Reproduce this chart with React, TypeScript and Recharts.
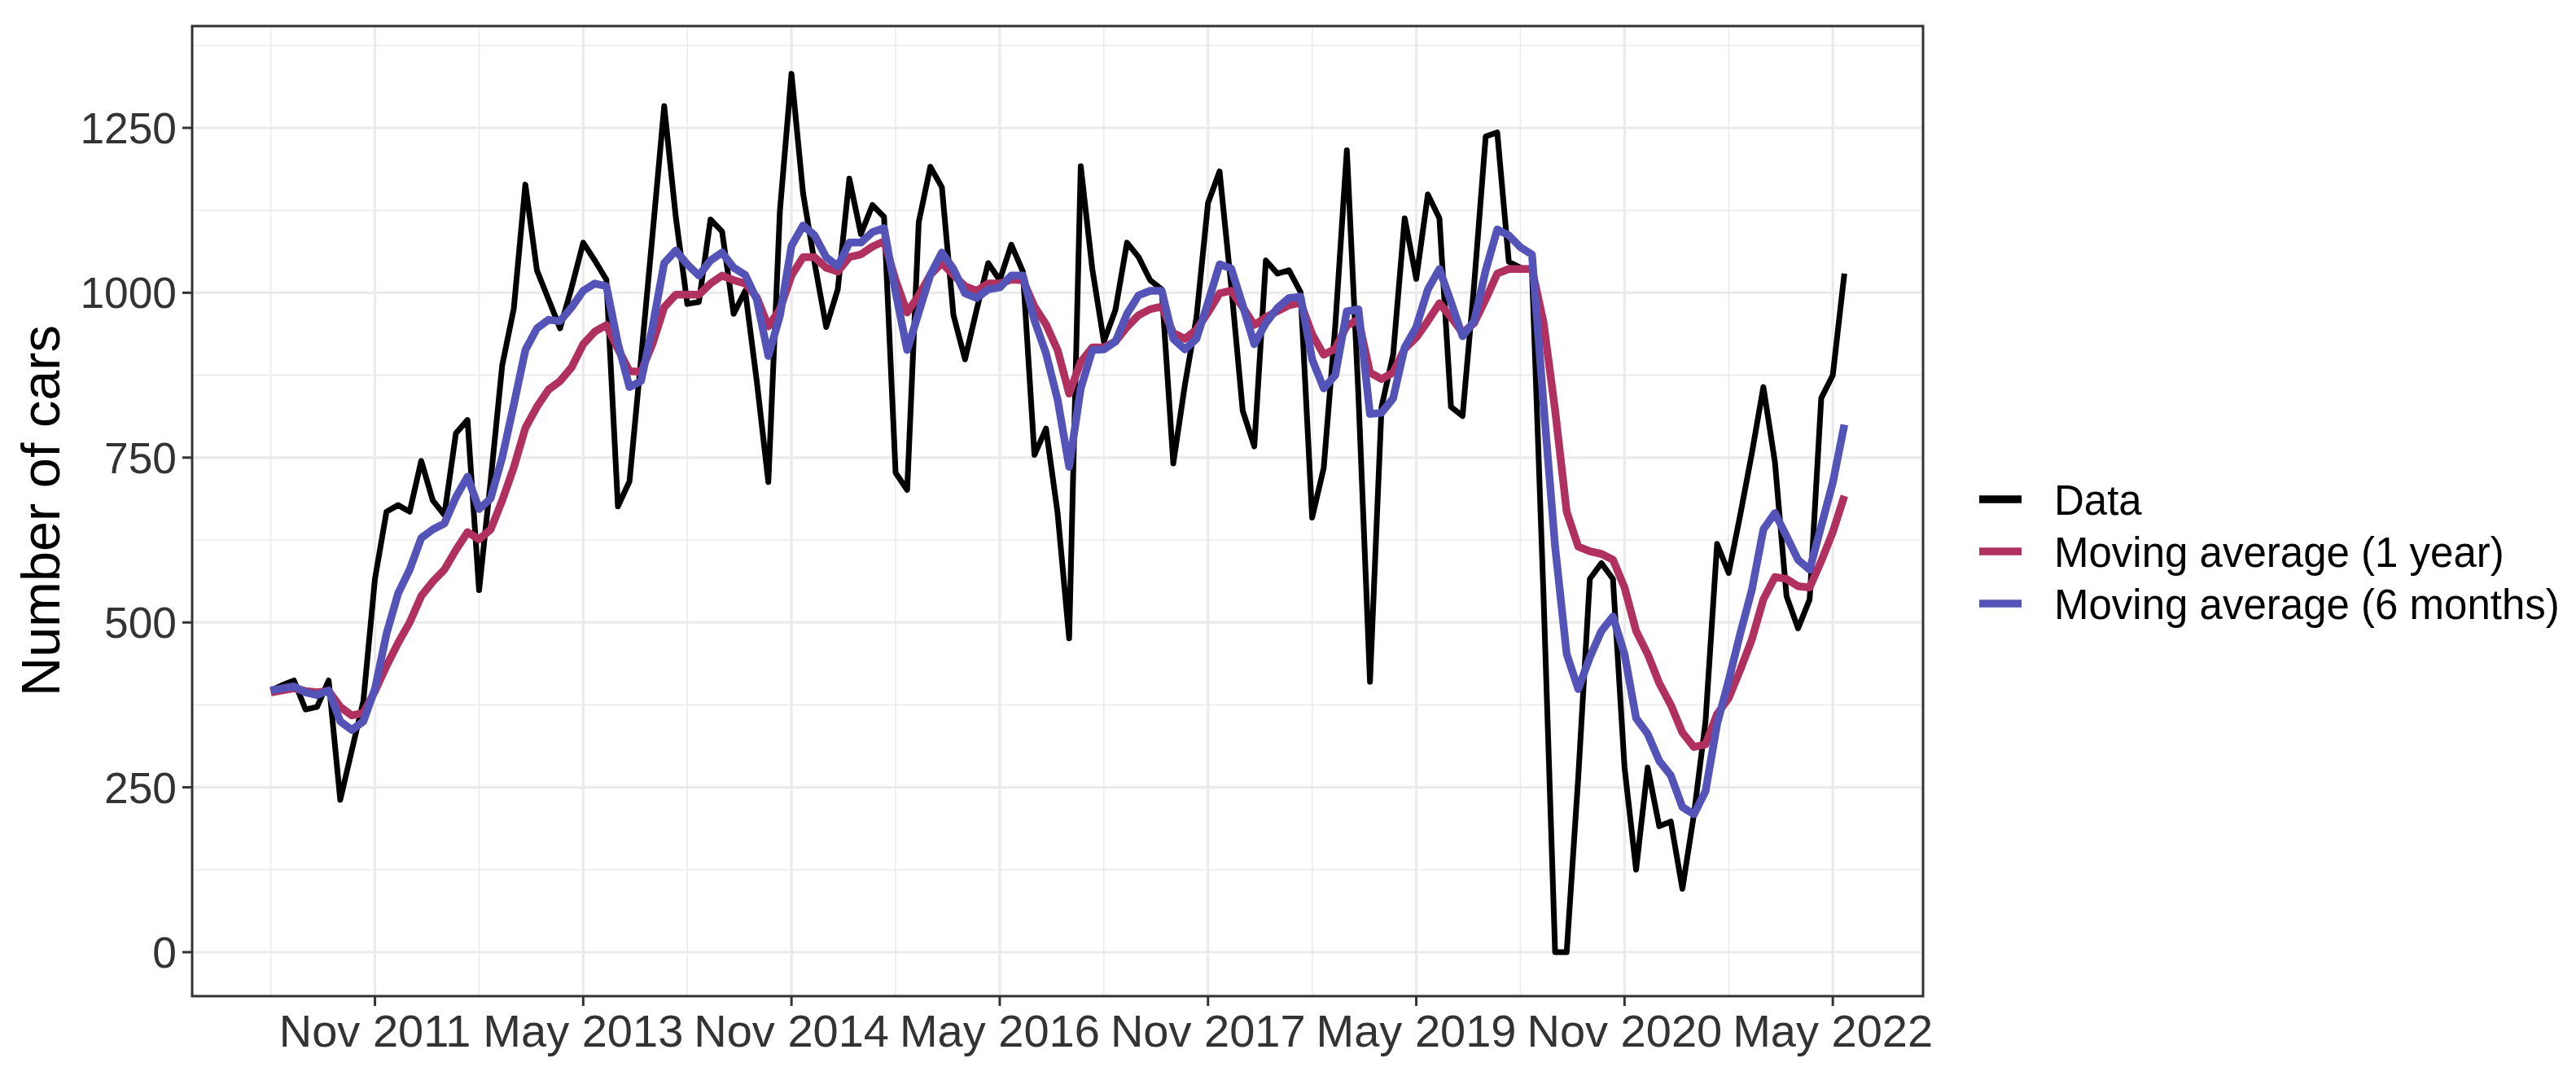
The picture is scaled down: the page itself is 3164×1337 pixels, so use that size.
import React from "react";
import { LineChart, Line, XAxis, YAxis, ReferenceLine, ReferenceArea } from "recharts";

// monthly car counts, Feb 2011 .. Jun 2022
const carsData = [
  397, 405, 412, 368, 372, 412, 231, 306, 381, 566, 668, 678, 668, 745, 685, 663, 787, 807, 549, 715,
  890, 976, 1164, 1034, 990, 946, 1008, 1076, 1049, 1020, 676, 714, 900, 1090, 1283, 1115, 983, 986, 1111, 1093,
  968, 1003, 866, 713, 1124, 1332, 1151, 1045, 948, 1005, 1173, 1089, 1133, 1115, 727, 701, 1107, 1191, 1160, 966,
  899, 974, 1045, 1019, 1073, 1032, 754, 794, 666, 476, 1192, 1036, 926, 974, 1076, 1054, 1019, 1005, 741, 860,
  962, 1136, 1184, 1011, 821, 767, 1049, 1029, 1034, 1001, 659, 734, 950, 1216, 845, 410, 827, 906, 1113, 1021,
  1149, 1113, 827, 813, 1012, 1237, 1243, 1047, 1038, 1034, 540, 0, 0, 265, 566, 590, 566, 280, 125, 280,
  191, 198, 96, 209, 350, 619, 575, 663, 756, 857, 743, 540, 491, 535, 840, 875, 1029,
];

const movingAvg1Year = [
  394, 397, 400, 396, 394, 396, 372, 359, 363, 396, 434, 469, 500, 540, 562, 580, 610, 637, 626, 641,
  685, 735, 795, 827, 853, 866, 887, 922, 941, 951, 915, 881, 880, 923, 978, 997, 997, 997, 1014, 1026,
  1019, 1014, 993, 949, 975, 1026, 1054, 1054, 1038, 1032, 1054, 1058, 1070, 1078, 1019, 970, 996, 1027, 1045, 1027,
  1010, 1003, 1014, 1014, 1020, 1019, 979, 952, 913, 847, 895, 917, 917, 926, 948, 966, 975, 979, 939, 930,
  944, 970, 999, 1003, 978, 951, 963, 972, 981, 985, 937, 906, 915, 950, 959, 879, 869, 879, 915, 932,
  957, 984, 963, 939, 954, 990, 1029, 1036, 1036, 1036, 955, 822, 668, 615, 608, 604, 595, 553, 487, 452,
  408, 375, 333, 311, 315, 361, 385, 428, 474, 535, 569, 566, 555, 553, 593, 637, 692,
];

const movingAvg6Months = [
  397, 400, 403, 394, 390, 397, 350, 337, 350, 399, 483, 544, 580, 628, 641, 650, 690, 721, 672, 688,
  750, 830, 913, 946, 959, 957, 978, 1003, 1014, 1010, 923, 857, 866, 949, 1045, 1064, 1043, 1026, 1049, 1061,
  1038, 1027, 990, 904, 965, 1071, 1102, 1087, 1054, 1040, 1076, 1076, 1092, 1098, 1001, 913, 970, 1027, 1061, 1036,
  999, 992, 1005, 1008, 1026, 1026, 958, 908, 838, 736, 855, 913, 914, 926, 968, 996, 1003, 1003, 930, 914,
  930, 985, 1043, 1037, 981, 922, 954, 977, 992, 994, 899, 855, 875, 972, 975, 816, 818, 840, 917, 948,
  1005, 1036, 986, 934, 957, 1034, 1096, 1087, 1069, 1058, 831, 615, 452, 399, 447, 487, 509, 452, 355, 331,
  290, 268, 220, 209, 244, 346, 412, 483, 549, 641, 666, 631, 595, 580, 646, 712, 800,
];

// x axis works in months counted from Feb 2011
const xTickMonths = [9, 27, 45, 63, 81, 99, 117, 135];
const xTickLabels = ["Nov 2011", "May 2013", "Nov 2014", "May 2016", "Nov 2017", "May 2019", "Nov 2020", "May 2022"];
const xMinorMonths = [0, 18, 36, 54, 72, 90, 108, 126];
const yTicks = [0, 250, 500, 750, 1000, 1250];
const yMinorTicks = [125, 375, 625, 875, 1125, 1375];

const seriesNames = ["Data", "Moving average (1 year)", "Moving average (6 months)"];

const X_DOMAIN: [number, number] = [-6.8, 142.8];
const Y_DOMAIN: [number, number] = [-66.7, 1404.4];

const FONT = "'Liberation Sans', Arial, Helvetica, sans-serif";
const GRID = "#EBEBEB";
const COLORS = ["#000000", "#B03060", "#5454B8"];
const WIDTHS = [7, 9.5, 9.5];

const rows = carsData.map((v, i) => ({
  month: i,
  data: v,
  ma12: movingAvg1Year[i],
  ma6: movingAvg6Months[i],
}));

export default function App() {
  const keys = ["data", "ma12", "ma6"];

  return (
    <div style={{ position: "absolute", left: 0, top: 0, width: 3164, height: 1337, background: "#fff" }}>
      <LineChart
        width={3164}
        height={1337}
        data={rows}
        margin={{ top: 32, right: 802, bottom: 0, left: 0 }}
        style={{ fontFamily: FONT }}
      >
        {/* minor grid */}
        {yMinorTicks.map((v) => (
          <ReferenceLine key={"ym" + v} y={v} stroke={GRID} strokeWidth={1.6} zIndex={-90} />
        ))}
        {xMinorMonths.map((v) => (
          <ReferenceLine key={"xm" + v} x={v} stroke={GRID} strokeWidth={1.6} zIndex={-90} />
        ))}
        {/* major grid */}
        {yTicks.map((v) => (
          <ReferenceLine key={"yM" + v} y={v} stroke={GRID} strokeWidth={3.2} zIndex={-80} />
        ))}
        {xTickMonths.map((v) => (
          <ReferenceLine key={"xM" + v} x={v} stroke={GRID} strokeWidth={3.2} zIndex={-80} />
        ))}

        <XAxis
          dataKey="month"
          type="number"
          domain={X_DOMAIN}
          allowDataOverflow
          ticks={xTickMonths}
          interval={0}
          tickFormatter={(v) => xTickLabels[xTickMonths.indexOf(v)]}
          height={114}
          axisLine={false}
          tickSize={12}
          tickMargin={10}
          tickLine={{ stroke: "#333333", strokeWidth: 3 }}
          tick={{ fontSize: 56, fill: "#333333", fontFamily: FONT }}
        />
        <YAxis
          type="number"
          domain={Y_DOMAIN}
          allowDataOverflow
          ticks={yTicks}
          interval={0}
          width={236}
          axisLine={false}
          tickSize={12}
          tickMargin={7}
          tickLine={{ stroke: "#333333", strokeWidth: 3 }}
          tick={{ fontSize: 53.3, fill: "#333333", fontFamily: FONT }}
        />

        {keys.map((k, i) => (
          <Line
            key={k}
            dataKey={k}
            name={seriesNames[i]}
            type="linear"
            stroke={COLORS[i]}
            strokeWidth={WIDTHS[i]}
            strokeLinejoin="round"
            strokeLinecap="butt"
            dot={false}
            activeDot={false}
            isAnimationActive={false}
          />
        ))}

        {/* panel border */}
        <ReferenceArea
          x1={X_DOMAIN[0]}
          x2={X_DOMAIN[1]}
          y1={Y_DOMAIN[0]}
          y2={Y_DOMAIN[1]}
          ifOverflow="visible"
          fill="none"
          fillOpacity={0}
          stroke="#333333"
          strokeWidth={3}
          zIndex={900}
        />
      </LineChart>

      {/* axis title + legend */}
      <svg
        width={3164}
        height={1337}
        style={{ position: "absolute", left: 0, top: 0, pointerEvents: "none", fontFamily: FONT }}
      >
        <text
          transform="translate(73,627) rotate(-90)"
          textAnchor="middle"
          fontSize={66.7}
          fill="#000"
        >
          Number of cars
        </text>
        {seriesNames.map((name, i) => (
          <g key={name}>
            <line
              x1={2431}
              x2={2483}
              y1={613 + i * 64}
              y2={613 + i * 64}
              stroke={COLORS[i]}
              strokeWidth={9.5}
            />
            <text x={2523} y={632 + i * 64} fontSize={51} fill="#000">
              {name}
            </text>
          </g>
        ))}
      </svg>
    </div>
  );
}
